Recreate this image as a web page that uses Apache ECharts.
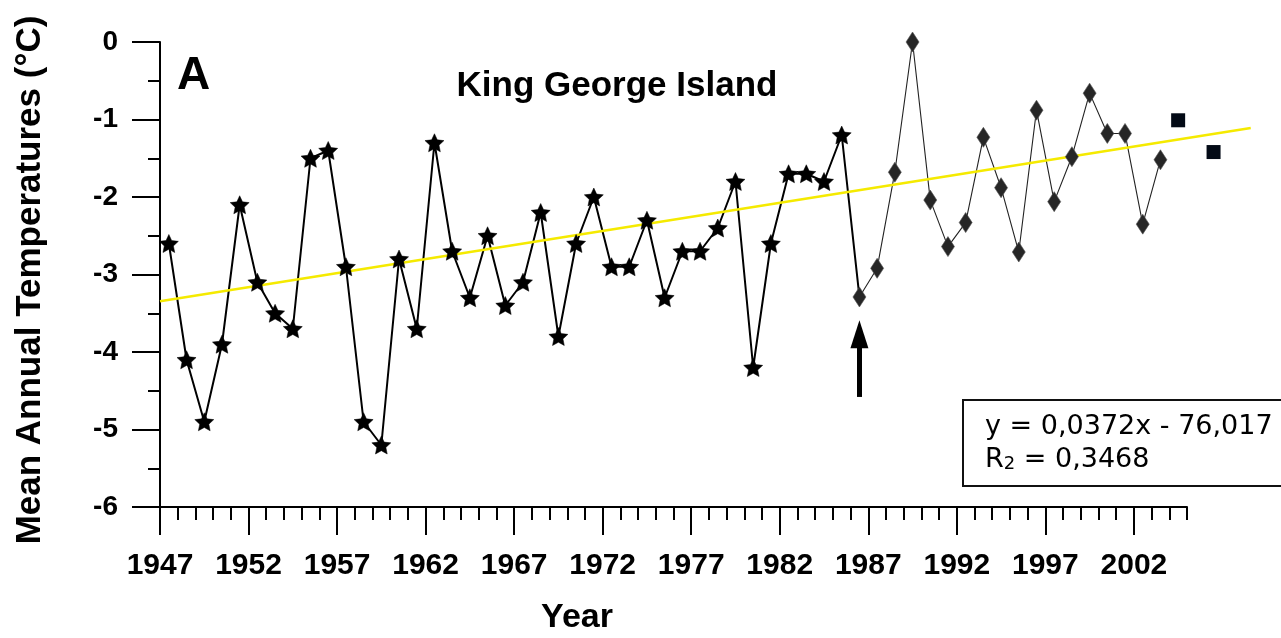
<!DOCTYPE html>
<html>
<head>
<meta charset="utf-8">
<script src="https://cdn.jsdelivr.net/npm/echarts@6/dist/echarts.min.js"></script>
<style>
html,body{margin:0;padding:0;background:#fff;}
#chart{width:1281px;height:638px;}
</style>
</head>
<body>
<div id="chart"></div>
<script>
// ---- data ----
const baseYear = 1947;
const starYears = [1947,1948,1949,1950,1951,1952,1953,1954,1955,1956,1957,1958,1959,1960,1961,1962,1963,1964,1965,1966,1967,1968,1969,1970,1971,1972,1973,1974,1975,1976,1977,1978,1979,1980,1981,1982,1983,1984,1985];
const starTemps = [-2.6,-4.1,-4.9,-3.9,-2.1,-3.1,-3.5,-3.7,-1.5,-1.4,-2.9,-4.9,-5.2,-2.8,-3.7,-1.3,-2.7,-3.3,-2.5,-3.4,-3.1,-2.2,-3.8,-2.6,-2.0,-2.9,-2.9,-2.3,-3.3,-2.7,-2.7,-2.4,-1.8,-4.2,-2.6,-1.7,-1.7,-1.8,-1.2];
const diamondYears = [1986,1987,1988,1989,1990,1991,1992,1993,1994,1995,1996,1997,1998,1999,2000,2001,2002,2003];
const diamondTemps = [-3.29,-2.92,-1.68,0.0,-2.04,-2.64,-2.33,-1.23,-1.88,-2.71,-0.88,-2.06,-1.48,-0.66,-1.18,-1.18,-2.35,-1.52];
const squareYears = [2004,2006];
const squareTemps = [-1.01,-1.42];
const trendYears = [1946.5,2008.1];
const trendTemps = [-3.345,-1.11];
const arrowYear = 1986;
const arrowTemps = [-4.58,-3.77];
const majorYearTicks = [1947,1952,1957,1962,1967,1972,1977,1982,1987,1992,1997,2002];
const axisEndYear = 2005;
const extendedEndYear = 2009;
const yTicks = [-6,-5,-4,-3,-2,-1,0];

// ---- helpers ----
const xOf = y => y - baseYear + 0.5;          // points sit mid-year
const tickOf = y => y - baseYear;             // tick positions
const pairs = (xs, ys) => xs.map((x, i) => [xOf(x), ys[i]]);

const starPath = 'path://M50,0 L64.1,30.6 L97.6,34.5 L72.8,57.4 L79.4,90.5 L50,74 L20.6,90.5 L27.2,57.4 L2.4,34.5 L35.9,30.6 Z';
const FONT = 'Liberation Sans, Arial, sans-serif';
const xMax = tickOf(axisEndYear);
const xMaxExt = tickOf(extendedEndYear);

const G = {left: 160, top: 42, width: 1027, height: 465};
const pxPerYear = G.width / xMax;

const starLineData = pairs(starYears, starTemps).concat([[xOf(diamondYears[0]), diamondTemps[0]]]);
const yMin = yTicks[0], yMax = yTicks[yTicks.length - 1];
const hiddenAxis = {show: false, axisLine: {show: false}, axisTick: {show: false}, axisLabel: {show: false}, splitLine: {show: false}};

const chart = echarts.init(document.getElementById('chart'), null, {renderer: 'canvas'});
chart.setOption({
  animation: false,
  backgroundColor: '#fff',
  grid: [
    Object.assign({outerBoundsMode: 'none', containLabel: false}, G),
    Object.assign({outerBoundsMode: 'none', containLabel: false}, G),
    {outerBoundsMode: 'none', containLabel: false, left: G.left, top: G.top, height: G.height, width: pxPerYear * xMaxExt}
  ],
  xAxis: [{
    gridIndex: 0, type: 'value', min: 0, max: xMax, interval: 1,
    axisLine: {show: true, onZero: false, lineStyle: {color: '#000', width: 2}},
    axisTick: {show: true, length: 13, lineStyle: {color: '#000', width: 2}},
    splitLine: {show: false},
    axisLabel: {
      interval: 0, margin: 44, color: '#000', fontSize: 30, fontWeight: 'bold', fontFamily: FONT,
      formatter: v => (majorYearTicks.indexOf(baseYear + v) >= 0 ? String(baseYear + v) : '')
    }
  }, {
    gridIndex: 1, type: 'value', min: 0, max: xMax, position: 'bottom',
    axisLine: {show: false, onZero: false},
    axisTick: {show: true, length: 28, customValues: majorYearTicks.map(tickOf), lineStyle: {color: '#000', width: 2}},
    axisLabel: {show: false},
    splitLine: {show: false}
  }, Object.assign({gridIndex: 2, type: 'value', min: 0, max: xMaxExt}, hiddenAxis)],
  yAxis: [{
    gridIndex: 0, type: 'value', min: yMin, max: yMax, interval: 1,
    axisLine: {show: true, onZero: false, lineStyle: {color: '#000', width: 2}},
    axisTick: {show: true, length: 28, lineStyle: {color: '#000', width: 2}},
    minorTick: {show: true, splitNumber: 2, length: 12, lineStyle: {color: '#000', width: 2}},
    splitLine: {show: false},
    axisLabel: {margin: 42, color: '#000', fontSize: 28, fontWeight: 'bold', fontFamily: FONT}
  },
  Object.assign({gridIndex: 1, type: 'value', min: yMin, max: yMax}, hiddenAxis),
  Object.assign({gridIndex: 2, type: 'value', min: yMin, max: yMax}, hiddenAxis)],
  series: [
    {
      type: 'line', xAxisIndex: 0, yAxisIndex: 0, data: starLineData, symbol: 'none', clip: false, z: 2,
      lineStyle: {color: '#000', width: 2}
    },
    {
      type: 'line', xAxisIndex: 0, yAxisIndex: 0, data: pairs(diamondYears, diamondTemps), symbol: 'none', clip: false, z: 2,
      lineStyle: {color: '#222', width: 1.1},
      markLine: {
        silent: true, symbol: ['none', 'triangle'], symbolSize: [18, 28],
        label: {show: false},
        lineStyle: {color: '#000', width: 5, type: 'solid'},
        data: [[{coord: [xOf(arrowYear), arrowTemps[0]]}, {coord: [xOf(arrowYear), arrowTemps[1]]}]]
      }
    },
    {
      type: 'line', xAxisIndex: 2, yAxisIndex: 2, data: pairs(trendYears, trendTemps), symbol: 'none', clip: false, z: 3,
      lineStyle: {color: '#f5ea00', width: 2.6}
    },
    {
      type: 'scatter', xAxisIndex: 0, yAxisIndex: 0, data: pairs(starYears, starTemps), symbol: starPath, symbolSize: [19, 18],
      clip: false, z: 4, itemStyle: {color: '#000', borderColor: '#000', borderWidth: 0.5, opacity: 1}
    },
    {
      type: 'scatter', xAxisIndex: 0, yAxisIndex: 0, data: pairs(diamondYears, diamondTemps), symbol: 'diamond', symbolSize: [13, 20],
      clip: false, z: 4, itemStyle: {color: '#262626', borderColor: '#555', borderWidth: 0.6, opacity: 1}
    },
    {
      type: 'scatter', xAxisIndex: 2, yAxisIndex: 2, data: pairs(squareYears, squareTemps), symbol: 'rect', symbolSize: 14,
      clip: false, z: 4, itemStyle: {color: '#030a16', opacity: 1}
    }
  ],
  graphic: [
    {type: 'text', left: 177, top: 53, z: 10,
      style: {text: 'A', fill: '#000', font: 'bold 46px ' + FONT}},
    {type: 'text', x: 617, y: 86, z: 10,
      style: {text: 'King George Island', fill: '#000', font: 'bold 35px ' + FONT, align: 'center', verticalAlign: 'middle'}},
    {type: 'text', x: 30, y: 280, rotation: Math.PI / 2, z: 10,
      style: {text: 'Mean Annual Temperatures (°C)', fill: '#000', font: 'bold 35px ' + FONT, align: 'center', verticalAlign: 'middle'}},
    {type: 'text', x: 577, y: 618, z: 10,
      style: {text: 'Year', fill: '#000', font: 'bold 34px ' + FONT, align: 'center', verticalAlign: 'middle'}},
    {type: 'rect', shape: {x: 963, y: 400, width: 340, height: 86}, z: 10,
      style: {fill: '#fff', stroke: '#111', lineWidth: 2}},
    {type: 'text', x: 985, y: 427, z: 11,
      style: {text: 'y = 0,0372x - 76,017', fill: '#000', font: '27px DejaVu Sans', verticalAlign: 'middle'}},
    {type: 'text', x: 985, y: 460, z: 11,
      style: {text: 'R{s|2} = 0,3468', fill: '#000', font: '27px DejaVu Sans', verticalAlign: 'middle',
        rich: {s: {fontSize: 18, fontFamily: 'DejaVu Sans', padding: [8, 0, 0, 0]}}}}
  ]
});
</script>
</body>
</html>
